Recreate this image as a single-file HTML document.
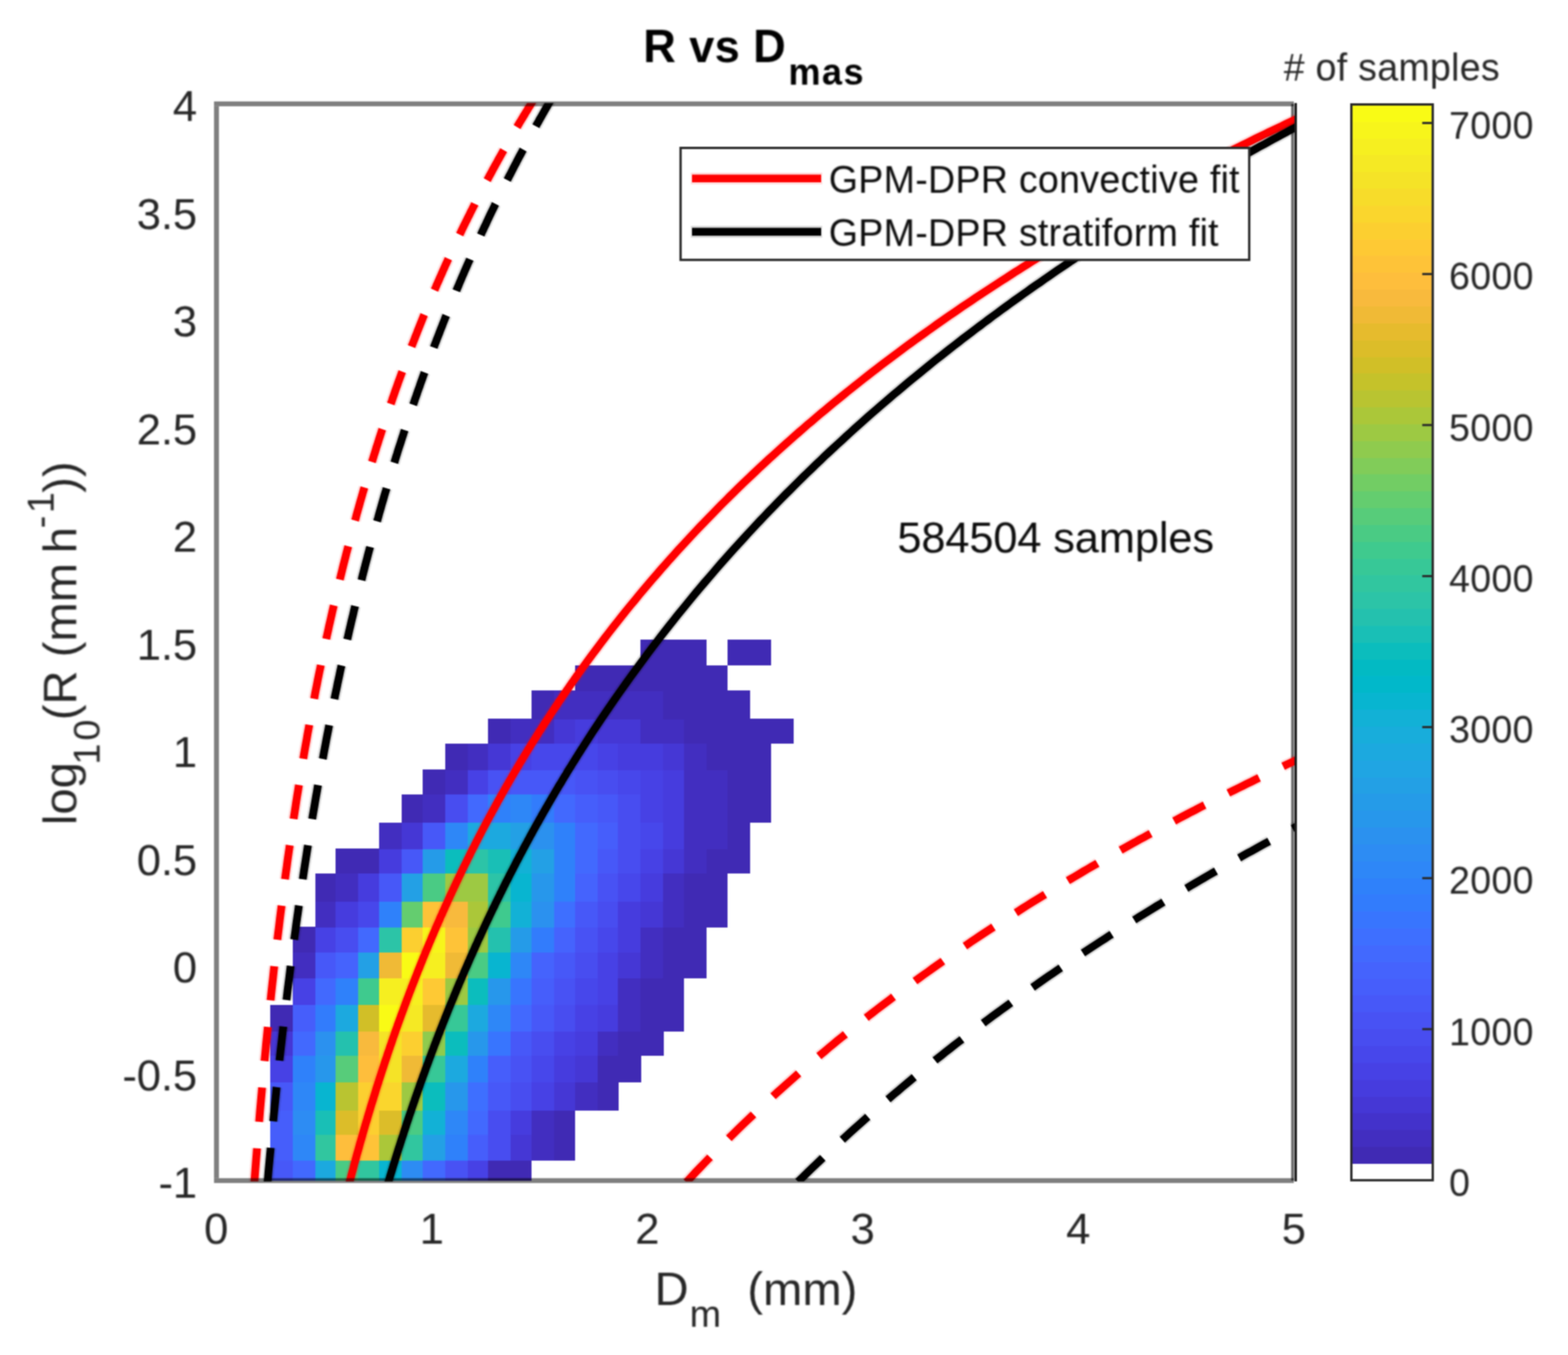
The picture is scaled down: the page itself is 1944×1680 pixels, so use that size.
<!DOCTYPE html>
<html><head><meta charset="utf-8"><title>R vs Dmas</title>
<style>
html,body{margin:0;padding:0;background:#fff;}
body{width:1944px;height:1680px;overflow:hidden;}
svg{display:block;font-family:"Liberation Sans",sans-serif;}
text{stroke-linejoin:round;}
.tick{font-size:51.33px;fill:#262626;stroke:#262626;stroke-width:0px;letter-spacing:-0.25px;}
.cb{font-size:46.67px;fill:#262626;stroke:#262626;stroke-width:0px;letter-spacing:0.3px;}
.leg{font-size:46.67px;fill:#0c0c0c;stroke:#0c0c0c;stroke-width:0px;letter-spacing:0.3px;}
.ann{font-size:51.33px;fill:#0c0c0c;stroke:#0c0c0c;stroke-width:0px;letter-spacing:-0.2px;}
.lab{font-size:56px;fill:#262626;stroke:#262626;stroke-width:0px;letter-spacing:0px;}
.ttl{font-size:56px;font-weight:bold;fill:#000;stroke:#000;stroke-width:0px;letter-spacing:0.5px;}
.sub{font-size:44.8px;}
</style></head><body>
<svg width="1944" height="1680" viewBox="0 0 1944 1680">
<defs>
<path id="c0" d="M787.4 1538.5 L792.7 1532.0 L798.1 1525.6 L803.4 1519.3 L808.7 1513.1 L814.1 1506.9 L819.4 1500.7 L824.8 1494.7 L830.1 1488.7 L835.5 1482.7 L840.8 1476.8 L846.2 1470.9 L851.5 1465.2 L856.8 1459.4 L862.2 1453.7 L867.5 1448.1 L872.9 1442.5 L878.2 1437.0 L883.6 1431.5 L888.9 1426.0 L894.2 1420.6 L899.6 1415.3 L904.9 1410.0 L910.3 1404.7 L915.6 1399.5 L921.0 1394.3 L926.3 1389.2 L931.7 1384.1 L937.0 1379.1 L942.3 1374.1 L947.7 1369.1 L953.0 1364.2 L958.4 1359.3 L963.7 1354.4 L969.1 1349.6 L974.4 1344.8 L979.8 1340.1 L985.1 1335.4 L990.4 1330.7 L995.8 1326.1 L1001.1 1321.4 L1006.5 1316.9 L1011.8 1312.3 L1017.2 1307.8 L1022.5 1303.4 L1027.8 1298.9 L1033.2 1294.5 L1038.5 1290.1 L1043.9 1285.8 L1049.2 1281.5 L1054.6 1277.2 L1059.9 1272.9 L1065.3 1268.7 L1070.6 1264.5 L1075.9 1260.3 L1081.3 1256.1 L1086.6 1252.0 L1092.0 1247.9 L1097.3 1243.9 L1102.7 1239.8 L1108.0 1235.8 L1113.4 1231.8 L1118.7 1227.8 L1124.0 1223.9 L1129.4 1220.0 L1134.7 1216.1 L1140.1 1212.2 L1145.4 1208.4 L1150.8 1204.6 L1156.1 1200.8 L1161.4 1197.0 L1166.8 1193.2 L1172.1 1189.5 L1177.5 1185.8 L1182.8 1182.1 L1188.2 1178.4 L1193.5 1174.8 L1198.9 1171.2 L1204.2 1167.6 L1209.5 1164.0 L1214.9 1160.4 L1220.2 1156.9 L1225.6 1153.4 L1230.9 1149.9 L1236.3 1146.4 L1241.6 1142.9 L1247.0 1139.5 L1252.3 1136.1 L1257.6 1132.7 L1263.0 1129.3 L1268.3 1125.9 L1273.7 1122.5 L1279.0 1119.2 L1284.4 1115.9 L1289.7 1112.6 L1295.0 1109.3 L1300.4 1106.0 L1305.7 1102.8 L1311.1 1099.6 L1316.4 1096.3 L1321.8 1093.2 L1327.1 1090.0 L1332.5 1086.8 L1337.8 1083.7 L1343.1 1080.5 L1348.5 1077.4 L1353.8 1074.3 L1359.2 1071.2 L1364.5 1068.1 L1369.9 1065.1 L1375.2 1062.0 L1380.6 1059.0 L1385.9 1056.0 L1391.2 1053.0 L1396.6 1050.0 L1401.9 1047.0 L1407.3 1044.1 L1412.6 1041.1 L1418.0 1038.2 L1423.3 1035.3 L1428.6 1032.4 L1434.0 1029.5 L1439.3 1026.6 L1444.7 1023.7 L1450.0 1020.9 L1455.4 1018.1 L1460.7 1015.2 L1466.1 1012.4 L1471.4 1009.6 L1476.7 1006.8 L1482.1 1004.1 L1487.4 1001.3 L1492.8 998.5 L1498.1 995.8 L1503.5 993.1 L1508.8 990.4 L1514.2 987.7 L1519.5 985.0 L1524.8 982.3 L1530.2 979.6 L1535.5 977.0 L1540.9 974.3 L1546.2 971.7 L1551.6 969.1 L1556.9 966.4 L1562.2 963.8 L1567.6 961.2 L1572.9 958.7 L1578.3 956.1 L1583.6 953.5 L1589.0 951.0 L1594.3 948.4 L1599.7 945.9 L1605.0 943.4 L1610.3 940.9 L1615.7 938.4 L1621.0 935.9 L1626.4 933.4 L1631.7 931.0 L1637.1 928.5"/>
<path id="c1" d="M310.7 1533.3 L311.8 1517.4 L312.8 1501.9 L313.9 1486.7 L315.0 1471.9 L316.0 1457.5 L317.1 1443.4 L318.2 1429.6 L319.2 1416.0 L320.3 1402.8 L321.4 1389.8 L322.4 1377.1 L323.5 1364.7 L324.6 1352.5 L325.6 1340.5 L326.7 1328.8 L327.8 1317.2 L328.9 1305.9 L329.9 1294.8 L331.0 1283.9 L332.1 1273.1 L333.1 1262.6 L334.2 1252.2 L335.3 1241.9 L336.3 1231.9 L337.4 1222.0 L338.5 1212.2 L339.5 1202.6 L340.6 1193.2 L341.7 1183.9 L342.7 1174.7 L343.8 1165.7 L344.9 1156.7 L346.0 1148.0 L347.0 1139.3 L348.1 1130.7 L349.2 1122.3 L350.2 1114.0 L351.3 1105.8 L352.4 1097.6 L353.4 1089.6 L354.5 1081.7 L355.6 1073.9 L356.6 1066.2 L357.7 1058.6 L358.8 1051.1 L359.8 1043.6 L360.9 1036.3 L362.0 1029.0 L363.1 1021.8 L364.1 1014.7 L365.2 1007.7 L366.3 1000.8 L367.3 993.9 L368.4 987.1 L369.5 980.4 L370.5 973.7 L371.6 967.1 L372.7 960.6 L373.7 954.2 L374.8 947.8 L375.9 941.5 L376.9 935.2 L378.0 929.0 L379.1 922.9 L380.2 916.8 L381.2 910.8 L382.3 904.9 L383.4 899.0 L384.4 893.1 L385.5 887.3 L386.6 881.6 L387.6 875.9 L388.7 870.3 L389.8 864.7 L390.8 859.1 L391.9 853.6 L393.0 848.2 L394.0 842.8 L395.1 837.5 L396.2 832.1 L397.3 826.9 L398.3 821.7 L399.4 816.5 L400.5 811.4 L401.5 806.3 L402.6 801.2 L403.7 796.2 L404.7 791.3 L405.8 786.3 L406.9 781.4 L407.9 776.6 L409.0 771.8 L410.1 767.0 L411.2 762.2 L412.2 757.5 L413.3 752.9 L414.4 748.2 L415.4 743.6 L416.5 739.0 L417.6 734.5 L418.6 730.0 L419.7 725.5 L420.8 721.1 L421.8 716.7 L422.9 712.3 L424.0 707.9 L425.0 703.6 L426.1 699.3 L427.2 695.1 L428.3 690.8 L429.3 686.6 L430.4 682.5 L431.5 678.3 L432.5 674.2 L433.6 670.1 L434.7 666.0 L435.7 662.0 L436.8 658.0 L437.9 654.0 L438.9 650.0 L440.0 646.1 L441.1 642.2 L442.1 638.3 L443.2 634.4 L444.3 630.5 L445.4 626.7 L446.4 622.9 L447.5 619.2 L448.6 615.4 L449.6 611.7 L450.7 608.0 L451.8 604.3 L452.8 600.6 L453.9 597.0 L455.0 593.3 L456.0 589.7 L457.1 586.2 L458.2 582.6 L459.2 579.1 L460.3 575.5 L461.4 572.0 L462.5 568.6 L463.5 565.1 L464.6 561.7 L465.7 558.2 L466.7 554.8 L467.8 551.4 L468.9 548.1 L469.9 544.7 L471.0 541.4 L472.1 538.1 L473.1 534.8 L474.2 531.5 L475.3 528.2 L476.3 525.0 L477.4 521.7 L478.5 518.5 L479.6 515.3 L480.6 512.1 L481.7 509.0 L482.8 505.8 L483.8 502.7 L484.9 499.6 L486.0 496.5 L487.0 493.4 L488.1 490.3 L489.2 487.2 L490.2 484.2 L491.3 481.2 L492.4 478.2 L493.4 475.2 L494.5 472.2 L495.6 469.2 L496.7 466.2 L497.7 463.3 L498.8 460.4 L499.9 457.4 L500.9 454.5 L502.0 451.7 L503.1 448.8 L504.1 445.9 L505.2 443.1 L506.3 440.2 L507.3 437.4 L508.4 434.6 L509.5 431.8 L510.5 429.0 L511.6 426.2 L512.7 423.5 L513.8 420.7 L514.8 418.0 L515.9 415.2 L517.0 412.5 L518.0 409.8 L519.1 407.1 L520.2 404.5 L521.2 401.8 L522.3 399.1 L523.4 396.5 L524.4 393.8 L525.5 391.2 L526.6 388.6 L527.6 386.0 L528.7 383.4 L529.8 380.8 L530.9 378.3 L531.9 375.7 L533.0 373.2 L534.1 370.6 L535.1 368.1 L536.2 365.6 L537.3 363.1 L538.3 360.6 L539.4 358.1 L540.5 355.6 L541.5 353.1 L542.6 350.7 L543.7 348.2 L544.8 345.8 L545.8 343.3 L546.9 340.9 L548.0 338.5 L549.0 336.1 L550.1 333.7 L551.2 331.3 L552.2 328.9 L553.3 326.6 L554.4 324.2 L555.4 321.9 L556.5 319.5 L557.6 317.2 L558.6 314.9 L559.7 312.6 L560.8 310.2 L561.9 307.9 L562.9 305.7 L564.0 303.4 L565.1 301.1 L566.1 298.8 L567.2 296.6 L568.3 294.3 L569.3 292.1 L570.4 289.9 L571.5 287.6 L572.5 285.4 L573.6 283.2 L574.7 281.0 L575.7 278.8 L576.8 276.6 L577.9 274.4 L579.0 272.3 L580.0 270.1 L581.1 268.0 L582.2 265.8 L583.2 263.7 L584.3 261.5 L585.4 259.4 L586.4 257.3 L587.5 255.2 L588.6 253.1 L589.6 251.0 L590.7 248.9 L591.8 246.8 L592.8 244.7 L593.9 242.6 L595.0 240.6 L596.1 238.5 L597.1 236.5 L598.2 234.4 L599.3 232.4 L600.3 230.4 L601.4 228.3 L602.5 226.3 L603.5 224.3 L604.6 222.3 L605.7 220.3 L606.7 218.3 L607.8 216.3 L608.9 214.3 L609.9 212.4 L611.0 210.4 L612.1 208.4 L613.2 206.5 L614.2 204.5 L615.3 202.6 L616.4 200.7 L617.4 198.7 L618.5 196.8 L619.6 194.9 L620.6 193.0 L621.7 191.1 L622.8 189.2 L623.8 187.3 L624.9 185.4 L626.0 183.5 L627.0 181.6 L628.1 179.7 L629.2 177.9 L630.3 176.0 L631.3 174.2 L632.4 172.3 L633.5 170.5 L634.5 168.6 L635.6 166.8 L636.7 164.9 L637.7 163.1 L638.8 161.3 L639.9 159.5 L640.9 157.7 L642.0 155.9 L643.1 154.1 L644.1 152.3 L645.2 150.5 L646.3 148.7 L647.4 146.9 L648.4 145.2 L649.5 143.4 L650.6 141.6 L651.6 139.9 L652.7 138.1 L653.8 136.4 L654.8 134.6 L655.9 132.9 L657.0 131.2 L658.0 129.4 L659.1 127.7 L660.2 126.0 L661.2 124.3 L662.3 122.6 L663.4 120.9 L664.5 119.2 L665.5 117.5 L666.6 115.8 L667.7 114.1 L668.7 112.4 L669.8 110.7 L670.9 109.0 L671.9 107.4 L673.0 105.7 L674.1 104.0 L675.1 102.4 L676.2 100.7 L677.3 99.1 L678.4 97.4 L679.4 95.8 L680.5 94.2 L681.6 92.5 L682.6 90.9 L683.7 89.3 L684.8 87.7 L685.8 86.1 L686.9 84.5 L688.0 82.8 L689.0 81.2 L690.1 79.7 L691.2 78.1 L692.2 76.5 L693.3 74.9 L694.4 73.3 L695.5 71.7 L696.5 70.2 L697.6 68.6 L698.7 67.0 L699.7 65.5 L700.8 63.9 L701.9 62.3 L702.9 60.8"/>
<path id="c2" d="M415.4 1538.3 L416.5 1533.8 L417.6 1529.2 L418.6 1524.7 L419.7 1520.2 L420.8 1515.8 L421.8 1511.4 L422.9 1507.0 L424.0 1502.7 L425.0 1498.3 L426.1 1494.0 L427.2 1489.8 L428.3 1485.5 L429.3 1481.3 L430.4 1477.2 L431.5 1473.0 L432.5 1468.9 L433.6 1464.8 L434.7 1460.7 L435.7 1456.7 L436.8 1452.7 L437.9 1448.7 L438.9 1444.7 L440.0 1440.8 L441.1 1436.9 L442.1 1433.0 L443.2 1429.1 L444.3 1425.3 L445.4 1421.4 L446.4 1417.6 L447.5 1413.9 L448.6 1410.1 L449.6 1406.4 L450.7 1402.7 L451.8 1399.0 L452.8 1395.3 L453.9 1391.7 L455.0 1388.1 L456.0 1384.5 L457.1 1380.9 L458.2 1377.3 L459.2 1373.8 L460.3 1370.2 L461.4 1366.7 L462.5 1363.3 L463.5 1359.8 L464.6 1356.4 L465.7 1352.9 L466.7 1349.5 L467.8 1346.1 L468.9 1342.8 L469.9 1339.4 L471.0 1336.1 L472.1 1332.8 L473.1 1329.5 L474.2 1326.2 L475.3 1322.9 L476.3 1319.7 L477.4 1316.4 L478.5 1313.2 L479.6 1310.0 L480.6 1306.8 L481.7 1303.7 L482.8 1300.5 L483.8 1297.4 L484.9 1294.3 L486.0 1291.2 L487.0 1288.1 L488.1 1285.0 L489.2 1281.9 L490.2 1278.9 L491.3 1275.9 L492.4 1272.9 L493.4 1269.9 L494.5 1266.9 L495.6 1263.9 L496.7 1260.9 L497.7 1258.0 L498.8 1255.1 L499.9 1252.2 L500.9 1249.3 L502.0 1246.4 L503.1 1243.5 L504.1 1240.6 L505.2 1237.8 L506.3 1234.9 L507.3 1232.1 L508.4 1229.3 L509.5 1226.5 L510.5 1223.7 L511.6 1220.9 L512.7 1218.2 L513.8 1215.4 L514.8 1212.7 L515.9 1210.0 L517.0 1207.2 L518.0 1204.5 L519.1 1201.8 L520.2 1199.2 L521.2 1196.5 L522.3 1193.8 L523.4 1191.2 L524.4 1188.6 L525.5 1185.9 L526.6 1183.3 L527.6 1180.7 L528.7 1178.1 L529.8 1175.5 L530.9 1173.0 L531.9 1170.4 L533.0 1167.9 L534.1 1165.3 L535.1 1162.8 L536.2 1160.3 L537.3 1157.8 L538.3 1155.3 L539.4 1152.8 L540.5 1150.3 L541.5 1147.8 L542.6 1145.4 L543.7 1142.9 L544.8 1140.5 L545.8 1138.0 L546.9 1135.6 L548.0 1133.2 L549.0 1130.8 L550.1 1128.4 L551.2 1126.0 L552.2 1123.6 L553.3 1121.3 L554.4 1118.9 L555.4 1116.6 L556.5 1114.2 L557.6 1111.9 L558.6 1109.6 L559.7 1107.3 L560.8 1105.0 L561.9 1102.7 L562.9 1100.4 L564.0 1098.1 L565.1 1095.8 L566.1 1093.5 L567.2 1091.3 L568.3 1089.0 L569.3 1086.8 L570.4 1084.6 L571.5 1082.3 L572.5 1080.1 L573.6 1077.9 L574.7 1075.7 L575.7 1073.5 L576.8 1071.3 L577.9 1069.2 L579.0 1067.0 L580.0 1064.8 L581.1 1062.7 L582.2 1060.5 L583.2 1058.4 L584.3 1056.2 L585.4 1054.1 L586.4 1052.0 L587.5 1049.9 L588.6 1047.8 L589.6 1045.7 L590.7 1043.6 L591.8 1041.5 L592.8 1039.4 L593.9 1037.4 L595.0 1035.3 L596.1 1033.2 L597.1 1031.2 L598.2 1029.1 L599.3 1027.1 L600.3 1025.1 L601.4 1023.0 L602.5 1021.0 L603.5 1019.0 L604.6 1017.0 L605.7 1015.0 L606.7 1013.0 L607.8 1011.0 L608.9 1009.1 L609.9 1007.1 L611.0 1005.1 L612.1 1003.2 L613.2 1001.2 L614.2 999.2 L615.3 997.3 L616.4 995.4 L617.4 993.4 L618.5 991.5 L619.6 989.6 L620.6 987.7 L621.7 985.8 L622.8 983.9 L623.8 982.0 L624.9 980.1 L626.0 978.2 L627.0 976.3 L628.1 974.4 L629.2 972.6 L630.3 970.7 L631.3 968.9 L632.4 967.0 L633.5 965.2 L634.5 963.3 L635.6 961.5 L636.7 959.7 L637.7 957.8 L638.8 956.0 L639.9 954.2 L640.9 952.4 L642.0 950.6 L643.1 948.8 L644.1 947.0 L645.2 945.2 L646.3 943.4 L647.4 941.6 L648.4 939.9 L649.5 938.1 L650.6 936.3 L651.6 934.6 L652.7 932.8 L653.8 931.1 L654.8 929.3 L655.9 927.6 L657.0 925.9 L658.0 924.1 L659.1 922.4 L660.2 920.7 L661.2 919.0 L662.3 917.3 L663.4 915.6 L664.5 913.9 L665.5 912.2 L666.6 910.5 L667.7 908.8 L668.7 907.1 L669.8 905.4 L670.9 903.8 L671.9 902.1 L673.0 900.4 L674.1 898.8 L675.1 897.1 L676.2 895.4 L677.3 893.8 L678.4 892.2 L679.4 890.5 L680.5 888.9 L681.6 887.3 L682.6 885.6 L683.7 884.0 L684.8 882.4 L685.8 880.8 L686.9 879.2 L688.0 877.6 L689.0 876.0 L690.1 874.4 L691.2 872.8 L692.2 871.2 L693.3 869.6 L694.4 868.0 L695.5 866.4 L696.5 864.9 L697.6 863.3 L698.7 861.7 L699.7 860.2 L700.8 858.6 L701.9 857.1 L702.9 855.5 L704.0 854.0 L705.1 852.4 L706.1 850.9 L707.2 849.3 L708.3 847.8 L709.3 846.3 L710.4 844.8 L711.5 843.2 L712.6 841.7 L713.6 840.2 L714.7 838.7 L715.8 837.2 L716.8 835.7 L717.9 834.2 L719.0 832.7 L720.0 831.2 L721.1 829.7 L722.2 828.2 L723.2 826.8 L728.6 819.4 L733.9 812.1 L739.3 805.0 L744.6 797.9 L750.0 790.8 L755.3 783.9 L760.6 777.0 L766.0 770.2 L771.3 763.5 L776.7 756.8 L782.0 750.3 L787.4 743.8 L792.7 737.3 L798.1 730.9 L803.4 724.6 L808.7 718.4 L814.1 712.2 L819.4 706.0 L824.8 700.0 L830.1 693.9 L835.5 688.0 L840.8 682.1 L846.2 676.2 L851.5 670.4 L856.8 664.7 L862.2 659.0 L867.5 653.4 L872.9 647.8 L878.2 642.3 L883.6 636.8 L888.9 631.3 L894.2 625.9 L899.6 620.6 L904.9 615.3 L910.3 610.0 L915.6 604.8 L921.0 599.6 L926.3 594.5 L931.7 589.4 L937.0 584.4 L942.3 579.3 L947.7 574.4 L953.0 569.4 L958.4 564.6 L963.7 559.7 L969.1 554.9 L974.4 550.1 L979.8 545.4 L985.1 540.7 L990.4 536.0 L995.8 531.3 L1001.1 526.7 L1006.5 522.2 L1011.8 517.6 L1017.2 513.1 L1022.5 508.7 L1027.8 504.2 L1033.2 499.8 L1038.5 495.4 L1043.9 491.1 L1049.2 486.7 L1054.6 482.5 L1059.9 478.2 L1065.3 474.0 L1070.6 469.8 L1075.9 465.6 L1081.3 461.4 L1086.6 457.3 L1092.0 453.2 L1097.3 449.2 L1102.7 445.1 L1108.0 441.1 L1113.4 437.1 L1118.7 433.1 L1124.0 429.2 L1129.4 425.3 L1134.7 421.4 L1140.1 417.5 L1145.4 413.7 L1150.8 409.9 L1156.1 406.1 L1161.4 402.3 L1166.8 398.5 L1172.1 394.8 L1177.5 391.1 L1182.8 387.4 L1188.2 383.7 L1193.5 380.1 L1198.9 376.5 L1204.2 372.9 L1209.5 369.3 L1214.9 365.7 L1220.2 362.2 L1225.6 358.7 L1230.9 355.2 L1236.3 351.7 L1241.6 348.2 L1247.0 344.8 L1252.3 341.4 L1257.6 337.9 L1263.0 334.6 L1268.3 331.2 L1273.7 327.8 L1279.0 324.5 L1284.4 321.2 L1289.7 317.9 L1295.0 314.6 L1300.4 311.3 L1305.7 308.1 L1311.1 304.9 L1316.4 301.6 L1321.8 298.4 L1327.1 295.3 L1332.5 292.1 L1337.8 288.9 L1343.1 285.8 L1348.5 282.7 L1353.8 279.6 L1359.2 276.5 L1364.5 273.4 L1369.9 270.4 L1375.2 267.3 L1380.6 264.3 L1385.9 261.3 L1391.2 258.3 L1396.6 255.3 L1401.9 252.3 L1407.3 249.4 L1412.6 246.4 L1418.0 243.5 L1423.3 240.6 L1428.6 237.7 L1434.0 234.8 L1439.3 231.9 L1444.7 229.0 L1450.0 226.2 L1455.4 223.3 L1460.7 220.5 L1466.1 217.7 L1471.4 214.9 L1476.7 212.1 L1482.1 209.3 L1487.4 206.6 L1492.8 203.8 L1498.1 201.1 L1503.5 198.4 L1508.8 195.7 L1514.2 193.0 L1519.5 190.3 L1524.8 187.6 L1530.2 184.9 L1535.5 182.3 L1540.9 179.6 L1546.2 177.0 L1551.6 174.3 L1556.9 171.7 L1562.2 169.1 L1567.6 166.5 L1572.9 164.0 L1578.3 161.4 L1583.6 158.8 L1589.0 156.3 L1594.3 153.7 L1599.7 151.2 L1605.0 148.7 L1610.3 146.2 L1615.7 143.7 L1621.0 141.2 L1626.4 138.7 L1631.7 136.2 L1637.1 133.8"/>
<path id="c3" d="M921.0 1536.2 L926.3 1530.4 L931.7 1524.7 L937.0 1519.0 L942.3 1513.3 L947.7 1507.7 L953.0 1502.1 L958.4 1496.6 L963.7 1491.1 L969.1 1485.6 L974.4 1480.2 L979.8 1474.9 L985.1 1469.5 L990.4 1464.2 L995.8 1459.0 L1001.1 1453.8 L1006.5 1448.6 L1011.8 1443.5 L1017.2 1438.4 L1022.5 1433.3 L1027.8 1428.3 L1033.2 1423.3 L1038.5 1418.4 L1043.9 1413.4 L1049.2 1408.6 L1054.6 1403.7 L1059.9 1398.9 L1065.3 1394.1 L1070.6 1389.3 L1075.9 1384.6 L1081.3 1379.9 L1086.6 1375.3 L1092.0 1370.6 L1097.3 1366.0 L1102.7 1361.5 L1108.0 1356.9 L1113.4 1352.4 L1118.7 1347.9 L1124.0 1343.5 L1129.4 1339.0 L1134.7 1334.6 L1140.1 1330.2 L1145.4 1325.9 L1150.8 1321.6 L1156.1 1317.3 L1161.4 1313.0 L1166.8 1308.8 L1172.1 1304.5 L1177.5 1300.3 L1182.8 1296.2 L1188.2 1292.0 L1193.5 1287.9 L1198.9 1283.8 L1204.2 1279.7 L1209.5 1275.7 L1214.9 1271.7 L1220.2 1267.7 L1225.6 1263.7 L1230.9 1259.7 L1236.3 1255.8 L1241.6 1251.9 L1247.0 1248.0 L1252.3 1244.1 L1257.6 1240.2 L1263.0 1236.4 L1268.3 1232.6 L1273.7 1228.8 L1279.0 1225.0 L1284.4 1221.3 L1289.7 1217.5 L1295.0 1213.8 L1300.4 1210.1 L1305.7 1206.5 L1311.1 1202.8 L1316.4 1199.2 L1321.8 1195.5 L1327.1 1191.9 L1332.5 1188.4 L1337.8 1184.8 L1343.1 1181.3 L1348.5 1177.7 L1353.8 1174.2 L1359.2 1170.7 L1364.5 1167.2 L1369.9 1163.8 L1375.2 1160.3 L1380.6 1156.9 L1385.9 1153.5 L1391.2 1150.1 L1396.6 1146.7 L1401.9 1143.4 L1407.3 1140.0 L1412.6 1136.7 L1418.0 1133.4 L1423.3 1130.1 L1428.6 1126.8 L1434.0 1123.5 L1439.3 1120.3 L1444.7 1117.0 L1450.0 1113.8 L1455.4 1110.6 L1460.7 1107.4 L1466.1 1104.2 L1471.4 1101.1 L1476.7 1097.9 L1482.1 1094.8 L1487.4 1091.6 L1492.8 1088.5 L1498.1 1085.4 L1503.5 1082.3 L1508.8 1079.3 L1514.2 1076.2 L1519.5 1073.2 L1524.8 1070.1 L1530.2 1067.1 L1535.5 1064.1 L1540.9 1061.1 L1546.2 1058.1 L1551.6 1055.2 L1556.9 1052.2 L1562.2 1049.3 L1567.6 1046.3 L1572.9 1043.4 L1578.3 1040.5 L1583.6 1037.6 L1589.0 1034.7 L1594.3 1031.9 L1599.7 1029.0 L1605.0 1026.1 L1610.3 1023.3 L1615.7 1020.5 L1621.0 1017.7 L1626.4 1014.9 L1631.7 1012.1 L1637.1 1009.3"/>
<path id="c4" d="M325.6 1537.9 L326.7 1524.6 L327.8 1511.6 L328.9 1498.8 L329.9 1486.2 L331.0 1473.8 L332.1 1461.7 L333.1 1449.7 L334.2 1438.0 L335.3 1426.4 L336.3 1415.0 L337.4 1403.8 L338.5 1392.8 L339.5 1382.0 L340.6 1371.3 L341.7 1360.7 L342.7 1350.4 L343.8 1340.1 L344.9 1330.0 L346.0 1320.1 L347.0 1310.3 L348.1 1300.6 L349.2 1291.1 L350.2 1281.7 L351.3 1272.4 L352.4 1263.2 L353.4 1254.1 L354.5 1245.2 L355.6 1236.4 L356.6 1227.6 L357.7 1219.0 L358.8 1210.5 L359.8 1202.1 L360.9 1193.8 L362.0 1185.5 L363.1 1177.4 L364.1 1169.4 L365.2 1161.4 L366.3 1153.6 L367.3 1145.8 L368.4 1138.1 L369.5 1130.5 L370.5 1123.0 L371.6 1115.6 L372.7 1108.2 L373.7 1100.9 L374.8 1093.7 L375.9 1086.5 L376.9 1079.5 L378.0 1072.5 L379.1 1065.5 L380.2 1058.6 L381.2 1051.8 L382.3 1045.1 L383.4 1038.4 L384.4 1031.8 L385.5 1025.3 L386.6 1018.8 L387.6 1012.3 L388.7 1006.0 L389.8 999.6 L390.8 993.4 L391.9 987.2 L393.0 981.0 L394.0 974.9 L395.1 968.9 L396.2 962.9 L397.3 956.9 L398.3 951.0 L399.4 945.2 L400.5 939.3 L401.5 933.6 L402.6 927.9 L403.7 922.2 L404.7 916.6 L405.8 911.0 L406.9 905.5 L407.9 900.0 L409.0 894.5 L410.1 889.1 L411.2 883.8 L412.2 878.4 L413.3 873.2 L414.4 867.9 L415.4 862.7 L416.5 857.5 L417.6 852.4 L418.6 847.3 L419.7 842.2 L420.8 837.2 L421.8 832.2 L422.9 827.3 L424.0 822.4 L425.0 817.5 L426.1 812.6 L427.2 807.8 L428.3 803.0 L429.3 798.3 L430.4 793.5 L431.5 788.8 L432.5 784.2 L433.6 779.5 L434.7 774.9 L435.7 770.4 L436.8 765.8 L437.9 761.3 L438.9 756.8 L440.0 752.4 L441.1 747.9 L442.1 743.5 L443.2 739.2 L444.3 734.8 L445.4 730.5 L446.4 726.2 L447.5 721.9 L448.6 717.7 L449.6 713.5 L450.7 709.3 L451.8 705.1 L452.8 700.9 L453.9 696.8 L455.0 692.7 L456.0 688.7 L457.1 684.6 L458.2 680.6 L459.2 676.6 L460.3 672.6 L461.4 668.6 L462.5 664.7 L463.5 660.8 L464.6 656.9 L465.7 653.0 L466.7 649.1 L467.8 645.3 L468.9 641.5 L469.9 637.7 L471.0 633.9 L472.1 630.2 L473.1 626.5 L474.2 622.7 L475.3 619.0 L476.3 615.4 L477.4 611.7 L478.5 608.1 L479.6 604.5 L480.6 600.9 L481.7 597.3 L482.8 593.7 L483.8 590.2 L484.9 586.6 L486.0 583.1 L487.0 579.6 L488.1 576.2 L489.2 572.7 L490.2 569.3 L491.3 565.8 L492.4 562.4 L493.4 559.0 L494.5 555.6 L495.6 552.3 L496.7 548.9 L497.7 545.6 L498.8 542.3 L499.9 539.0 L500.9 535.7 L502.0 532.4 L503.1 529.2 L504.1 526.0 L505.2 522.7 L506.3 519.5 L507.3 516.3 L508.4 513.1 L509.5 510.0 L510.5 506.8 L511.6 503.7 L512.7 500.6 L513.8 497.4 L514.8 494.3 L515.9 491.3 L517.0 488.2 L518.0 485.1 L519.1 482.1 L520.2 479.1 L521.2 476.0 L522.3 473.0 L523.4 470.0 L524.4 467.1 L525.5 464.1 L526.6 461.1 L527.6 458.2 L528.7 455.3 L529.8 452.3 L530.9 449.4 L531.9 446.5 L533.0 443.6 L534.1 440.8 L535.1 437.9 L536.2 435.1 L537.3 432.2 L538.3 429.4 L539.4 426.6 L540.5 423.8 L541.5 421.0 L542.6 418.2 L543.7 415.4 L544.8 412.7 L545.8 409.9 L546.9 407.2 L548.0 404.4 L549.0 401.7 L550.1 399.0 L551.2 396.3 L552.2 393.6 L553.3 391.0 L554.4 388.3 L555.4 385.6 L556.5 383.0 L557.6 380.3 L558.6 377.7 L559.7 375.1 L560.8 372.5 L561.9 369.9 L562.9 367.3 L564.0 364.7 L565.1 362.1 L566.1 359.6 L567.2 357.0 L568.3 354.5 L569.3 352.0 L570.4 349.4 L571.5 346.9 L572.5 344.4 L573.6 341.9 L574.7 339.4 L575.7 336.9 L576.8 334.5 L577.9 332.0 L579.0 329.5 L580.0 327.1 L581.1 324.7 L582.2 322.2 L583.2 319.8 L584.3 317.4 L585.4 315.0 L586.4 312.6 L587.5 310.2 L588.6 307.8 L589.6 305.4 L590.7 303.1 L591.8 300.7 L592.8 298.4 L593.9 296.0 L595.0 293.7 L596.1 291.4 L597.1 289.0 L598.2 286.7 L599.3 284.4 L600.3 282.1 L601.4 279.8 L602.5 277.6 L603.5 275.3 L604.6 273.0 L605.7 270.7 L606.7 268.5 L607.8 266.2 L608.9 264.0 L609.9 261.8 L611.0 259.6 L612.1 257.3 L613.2 255.1 L614.2 252.9 L615.3 250.7 L616.4 248.5 L617.4 246.3 L618.5 244.2 L619.6 242.0 L620.6 239.8 L621.7 237.7 L622.8 235.5 L623.8 233.4 L624.9 231.2 L626.0 229.1 L627.0 227.0 L628.1 224.9 L629.2 222.7 L630.3 220.6 L631.3 218.5 L632.4 216.4 L633.5 214.4 L634.5 212.3 L635.6 210.2 L636.7 208.1 L637.7 206.1 L638.8 204.0 L639.9 202.0 L640.9 199.9 L642.0 197.9 L643.1 195.8 L644.1 193.8 L645.2 191.8 L646.3 189.8 L647.4 187.8 L648.4 185.8 L649.5 183.8 L650.6 181.8 L651.6 179.8 L652.7 177.8 L653.8 175.8 L654.8 173.8 L655.9 171.9 L657.0 169.9 L658.0 168.0 L659.1 166.0 L660.2 164.1 L661.2 162.1 L662.3 160.2 L663.4 158.3 L664.5 156.3 L665.5 154.4 L666.6 152.5 L667.7 150.6 L668.7 148.7 L669.8 146.8 L670.9 144.9 L671.9 143.0 L673.0 141.1 L674.1 139.2 L675.1 137.4 L676.2 135.5 L677.3 133.6 L678.4 131.8 L679.4 129.9 L680.5 128.1 L681.6 126.2 L682.6 124.4 L683.7 122.6 L684.8 120.7 L685.8 118.9 L686.9 117.1 L688.0 115.3 L689.0 113.5 L690.1 111.6 L691.2 109.8 L692.2 108.0 L693.3 106.3 L694.4 104.5 L695.5 102.7 L696.5 100.9 L697.6 99.1 L698.7 97.4 L699.7 95.6 L700.8 93.8 L701.9 92.1 L702.9 90.3 L704.0 88.6 L705.1 86.8 L706.1 85.1 L707.2 83.3 L708.3 81.6 L709.3 79.9 L710.4 78.2 L711.5 76.4 L712.6 74.7 L713.6 73.0 L714.7 71.3 L715.8 69.6 L716.8 67.9 L717.9 66.2 L719.0 64.5 L720.0 62.8 L721.1 61.1"/>
<path id="c5" d="M461.4 1536.3 L462.5 1532.4 L463.5 1528.5 L464.6 1524.6 L465.7 1520.7 L466.7 1516.8 L467.8 1513.0 L468.9 1509.2 L469.9 1505.4 L471.0 1501.6 L472.1 1497.9 L473.1 1494.1 L474.2 1490.4 L475.3 1486.7 L476.3 1483.1 L477.4 1479.4 L478.5 1475.8 L479.6 1472.1 L480.6 1468.5 L481.7 1465.0 L482.8 1461.4 L483.8 1457.9 L484.9 1454.3 L486.0 1450.8 L487.0 1447.3 L488.1 1443.8 L489.2 1440.4 L490.2 1436.9 L491.3 1433.5 L492.4 1430.1 L493.4 1426.7 L494.5 1423.3 L495.6 1420.0 L496.7 1416.6 L497.7 1413.3 L498.8 1410.0 L499.9 1406.7 L500.9 1403.4 L502.0 1400.1 L503.1 1396.9 L504.1 1393.6 L505.2 1390.4 L506.3 1387.2 L507.3 1384.0 L508.4 1380.8 L509.5 1377.7 L510.5 1374.5 L511.6 1371.4 L512.7 1368.2 L513.8 1365.1 L514.8 1362.0 L515.9 1358.9 L517.0 1355.9 L518.0 1352.8 L519.1 1349.8 L520.2 1346.7 L521.2 1343.7 L522.3 1340.7 L523.4 1337.7 L524.4 1334.7 L525.5 1331.8 L526.6 1328.8 L527.6 1325.9 L528.7 1322.9 L529.8 1320.0 L530.9 1317.1 L531.9 1314.2 L533.0 1311.3 L534.1 1308.5 L535.1 1305.6 L536.2 1302.7 L537.3 1299.9 L538.3 1297.1 L539.4 1294.3 L540.5 1291.5 L541.5 1288.7 L542.6 1285.9 L543.7 1283.1 L544.8 1280.4 L545.8 1277.6 L546.9 1274.9 L548.0 1272.1 L549.0 1269.4 L550.1 1266.7 L551.2 1264.0 L552.2 1261.3 L553.3 1258.6 L554.4 1256.0 L555.4 1253.3 L556.5 1250.7 L557.6 1248.0 L558.6 1245.4 L559.7 1242.8 L560.8 1240.2 L561.9 1237.6 L562.9 1235.0 L564.0 1232.4 L565.1 1229.8 L566.1 1227.3 L567.2 1224.7 L568.3 1222.2 L569.3 1219.6 L570.4 1217.1 L571.5 1214.6 L572.5 1212.1 L573.6 1209.6 L574.7 1207.1 L575.7 1204.6 L576.8 1202.1 L577.9 1199.7 L579.0 1197.2 L580.0 1194.8 L581.1 1192.3 L582.2 1189.9 L583.2 1187.5 L584.3 1185.1 L585.4 1182.7 L586.4 1180.3 L587.5 1177.9 L588.6 1175.5 L589.6 1173.1 L590.7 1170.8 L591.8 1168.4 L592.8 1166.0 L593.9 1163.7 L595.0 1161.4 L596.1 1159.0 L597.1 1156.7 L598.2 1154.4 L599.3 1152.1 L600.3 1149.8 L601.4 1147.5 L602.5 1145.2 L603.5 1143.0 L604.6 1140.7 L605.7 1138.4 L606.7 1136.2 L607.8 1133.9 L608.9 1131.7 L609.9 1129.5 L611.0 1127.2 L612.1 1125.0 L613.2 1122.8 L614.2 1120.6 L615.3 1118.4 L616.4 1116.2 L617.4 1114.0 L618.5 1111.8 L619.6 1109.7 L620.6 1107.5 L621.7 1105.4 L622.8 1103.2 L623.8 1101.1 L624.9 1098.9 L626.0 1096.8 L627.0 1094.7 L628.1 1092.5 L629.2 1090.4 L630.3 1088.3 L631.3 1086.2 L632.4 1084.1 L633.5 1082.0 L634.5 1080.0 L635.6 1077.9 L636.7 1075.8 L637.7 1073.8 L638.8 1071.7 L639.9 1069.6 L640.9 1067.6 L642.0 1065.6 L643.1 1063.5 L644.1 1061.5 L645.2 1059.5 L646.3 1057.5 L647.4 1055.4 L648.4 1053.4 L649.5 1051.4 L650.6 1049.4 L651.6 1047.5 L652.7 1045.5 L653.8 1043.5 L654.8 1041.5 L655.9 1039.6 L657.0 1037.6 L658.0 1035.6 L659.1 1033.7 L660.2 1031.7 L661.2 1029.8 L662.3 1027.9 L663.4 1025.9 L664.5 1024.0 L665.5 1022.1 L666.6 1020.2 L667.7 1018.3 L668.7 1016.4 L669.8 1014.5 L670.9 1012.6 L671.9 1010.7 L673.0 1008.8 L674.1 1006.9 L675.1 1005.1 L676.2 1003.2 L677.3 1001.3 L678.4 999.5 L679.4 997.6 L680.5 995.8 L681.6 993.9 L682.6 992.1 L683.7 990.2 L684.8 988.4 L685.8 986.6 L686.9 984.8 L688.0 982.9 L689.0 981.1 L690.1 979.3 L691.2 977.5 L692.2 975.7 L693.3 973.9 L694.4 972.1 L695.5 970.4 L696.5 968.6 L697.6 966.8 L698.7 965.0 L699.7 963.3 L700.8 961.5 L701.9 959.8 L702.9 958.0 L704.0 956.2 L705.1 954.5 L706.1 952.8 L707.2 951.0 L708.3 949.3 L709.3 947.6 L710.4 945.8 L711.5 944.1 L712.6 942.4 L713.6 940.7 L714.7 939.0 L715.8 937.3 L716.8 935.6 L717.9 933.9 L719.0 932.2 L720.0 930.5 L721.1 928.8 L722.2 927.2 L723.2 925.5 L728.6 917.2 L733.9 908.9 L739.3 900.8 L744.6 892.8 L750.0 884.8 L755.3 877.0 L760.6 869.2 L766.0 861.5 L771.3 853.9 L776.7 846.4 L782.0 839.0 L787.4 831.6 L792.7 824.3 L798.1 817.1 L803.4 809.9 L808.7 802.9 L814.1 795.9 L819.4 788.9 L824.8 782.0 L830.1 775.2 L835.5 768.5 L840.8 761.8 L846.2 755.2 L851.5 748.7 L856.8 742.2 L862.2 735.7 L867.5 729.4 L872.9 723.0 L878.2 716.8 L883.6 710.6 L888.9 704.4 L894.2 698.3 L899.6 692.3 L904.9 686.3 L910.3 680.3 L915.6 674.4 L921.0 668.6 L926.3 662.7 L931.7 657.0 L937.0 651.3 L942.3 645.6 L947.7 640.0 L953.0 634.4 L958.4 628.9 L963.7 623.4 L969.1 617.9 L974.4 612.5 L979.8 607.2 L985.1 601.8 L990.4 596.6 L995.8 591.3 L1001.1 586.1 L1006.5 580.9 L1011.8 575.8 L1017.2 570.7 L1022.5 565.6 L1027.8 560.6 L1033.2 555.6 L1038.5 550.7 L1043.9 545.8 L1049.2 540.9 L1054.6 536.0 L1059.9 531.2 L1065.3 526.4 L1070.6 521.7 L1075.9 516.9 L1081.3 512.2 L1086.6 507.6 L1092.0 502.9 L1097.3 498.3 L1102.7 493.8 L1108.0 489.2 L1113.4 484.7 L1118.7 480.2 L1124.0 475.8 L1129.4 471.3 L1134.7 466.9 L1140.1 462.6 L1145.4 458.2 L1150.8 453.9 L1156.1 449.6 L1161.4 445.3 L1166.8 441.1 L1172.1 436.9 L1177.5 432.7 L1182.8 428.5 L1188.2 424.3 L1193.5 420.2 L1198.9 416.1 L1204.2 412.1 L1209.5 408.0 L1214.9 404.0 L1220.2 400.0 L1225.6 396.0 L1230.9 392.0 L1236.3 388.1 L1241.6 384.2 L1247.0 380.3 L1252.3 376.4 L1257.6 372.5 L1263.0 368.7 L1268.3 364.9 L1273.7 361.1 L1279.0 357.3 L1284.4 353.6 L1289.7 349.9 L1295.0 346.1 L1300.4 342.4 L1305.7 338.8 L1311.1 335.1 L1316.4 331.5 L1321.8 327.9 L1327.1 324.3 L1332.5 320.7 L1337.8 317.1 L1343.1 313.6 L1348.5 310.0 L1353.8 306.5 L1359.2 303.0 L1364.5 299.6 L1369.9 296.1 L1375.2 292.7 L1380.6 289.2 L1385.9 285.8 L1391.2 282.4 L1396.6 279.0 L1401.9 275.7 L1407.3 272.3 L1412.6 269.0 L1418.0 265.7 L1423.3 262.4 L1428.6 259.1 L1434.0 255.8 L1439.3 252.6 L1444.7 249.4 L1450.0 246.1 L1455.4 242.9 L1460.7 239.7 L1466.1 236.5 L1471.4 233.4 L1476.7 230.2 L1482.1 227.1 L1487.4 224.0 L1492.8 220.8 L1498.1 217.7 L1503.5 214.7 L1508.8 211.6 L1514.2 208.5 L1519.5 205.5 L1524.8 202.5 L1530.2 199.4 L1535.5 196.4 L1540.9 193.4 L1546.2 190.5 L1551.6 187.5 L1556.9 184.5 L1562.2 181.6 L1567.6 178.7 L1572.9 175.7 L1578.3 172.8 L1583.6 169.9 L1589.0 167.0 L1594.3 164.2 L1599.7 161.3 L1605.0 158.5 L1610.3 155.6 L1615.7 152.8 L1621.0 150.0 L1626.4 147.2 L1631.7 144.4 L1637.1 141.6"/>
<clipPath id="ax"><rect x="268.4" y="127.7" width="1336.6" height="1337.1"/></clipPath>
<filter id="soft" x="0" y="0" width="1944" height="1680" filterUnits="userSpaceOnUse" color-interpolation-filters="sRGB"><feConvolveMatrix order="3" kernelMatrix="1 2 1 2 4 2 1 2 1" edgeMode="duplicate" preserveAlpha="true"/></filter>
<filter id="tsoft" x="0" y="0" width="1944" height="1680" filterUnits="userSpaceOnUse" color-interpolation-filters="sRGB"><feConvolveMatrix order="5" kernelMatrix="1 4 6 4 1 4 16 24 16 4 6 24 36 24 6 4 16 24 16 4 1 4 6 4 1" edgeMode="none" preserveAlpha="false"/></filter>
</defs>
<rect x="0" y="0" width="1944" height="1680" fill="#ffffff"/>
<g id="plot" filter="url(#soft)">
<rect x="0" y="0" width="1944" height="1680" fill="#ffffff"/>
<g id="heat" shape-rendering="crispEdges">
<rect x="334.7" y="1438.5" width="28.3" height="25.6" fill="#4758f8"/>
<rect x="362.7" y="1438.5" width="28.3" height="25.6" fill="#4269fe"/>
<rect x="390.7" y="1438.5" width="26.0" height="25.6" fill="#1ca9df"/>
<rect x="416.4" y="1438.5" width="28.3" height="25.6" fill="#4acb84"/>
<rect x="444.4" y="1438.5" width="26.0" height="25.6" fill="#31c69f"/>
<rect x="470.0" y="1438.5" width="28.3" height="25.6" fill="#08b5d0"/>
<rect x="498.0" y="1438.5" width="26.0" height="25.6" fill="#2d8cf3"/>
<rect x="523.7" y="1438.5" width="28.3" height="25.6" fill="#4269fe"/>
<rect x="551.7" y="1438.5" width="28.3" height="25.6" fill="#4852f4"/>
<rect x="579.7" y="1438.5" width="26.0" height="25.6" fill="#4741e5"/>
<rect x="605.4" y="1438.5" width="28.3" height="25.6" fill="#402ab4"/>
<rect x="633.4" y="1438.5" width="26.0" height="25.6" fill="#402ab4"/>
<rect x="334.7" y="1407.0" width="28.3" height="31.8" fill="#465efb"/>
<rect x="362.7" y="1407.0" width="28.3" height="31.8" fill="#2e87f7"/>
<rect x="390.7" y="1407.0" width="26.0" height="31.8" fill="#31c69f"/>
<rect x="416.4" y="1407.0" width="28.3" height="31.8" fill="#febe3c"/>
<rect x="444.4" y="1407.0" width="26.0" height="31.8" fill="#fec338"/>
<rect x="470.0" y="1407.0" width="28.3" height="31.8" fill="#abc739"/>
<rect x="498.0" y="1407.0" width="26.0" height="31.8" fill="#31c69f"/>
<rect x="523.7" y="1407.0" width="28.3" height="31.8" fill="#23a0e5"/>
<rect x="551.7" y="1407.0" width="28.3" height="31.8" fill="#2f81fa"/>
<rect x="579.7" y="1407.0" width="26.0" height="31.8" fill="#465efb"/>
<rect x="605.4" y="1407.0" width="28.3" height="31.8" fill="#484df0"/>
<rect x="633.4" y="1407.0" width="26.0" height="31.8" fill="#4537d5"/>
<rect x="659.0" y="1407.0" width="28.3" height="31.8" fill="#422ec0"/>
<rect x="687.1" y="1407.0" width="26.0" height="31.8" fill="#402ab4"/>
<rect x="334.7" y="1376.7" width="28.3" height="30.6" fill="#465efb"/>
<rect x="362.7" y="1376.7" width="28.3" height="30.6" fill="#2d8cf3"/>
<rect x="390.7" y="1376.7" width="26.0" height="30.6" fill="#19bfb6"/>
<rect x="416.4" y="1376.7" width="28.3" height="30.6" fill="#dcbd29"/>
<rect x="444.4" y="1376.7" width="26.0" height="30.6" fill="#fccf30"/>
<rect x="470.0" y="1376.7" width="28.3" height="30.6" fill="#dcbd29"/>
<rect x="498.0" y="1376.7" width="26.0" height="30.6" fill="#4acb84"/>
<rect x="523.7" y="1376.7" width="28.3" height="30.6" fill="#12b1d6"/>
<rect x="551.7" y="1376.7" width="28.3" height="30.6" fill="#2e87f7"/>
<rect x="579.7" y="1376.7" width="26.0" height="30.6" fill="#4269fe"/>
<rect x="605.4" y="1376.7" width="28.3" height="30.6" fill="#484df0"/>
<rect x="633.4" y="1376.7" width="26.0" height="30.6" fill="#463cde"/>
<rect x="659.0" y="1376.7" width="28.3" height="30.6" fill="#422ec0"/>
<rect x="687.1" y="1376.7" width="26.0" height="30.6" fill="#402ab4"/>
<rect x="334.7" y="1341.7" width="28.3" height="35.3" fill="#4758f8"/>
<rect x="362.7" y="1341.7" width="28.3" height="35.3" fill="#2e87f7"/>
<rect x="390.7" y="1341.7" width="26.0" height="35.3" fill="#08b5d0"/>
<rect x="416.4" y="1341.7" width="28.3" height="35.3" fill="#b9c431"/>
<rect x="444.4" y="1341.7" width="26.0" height="35.3" fill="#fccf30"/>
<rect x="470.0" y="1341.7" width="28.3" height="35.3" fill="#fad62d"/>
<rect x="498.0" y="1341.7" width="26.0" height="35.3" fill="#9dc943"/>
<rect x="523.7" y="1341.7" width="28.3" height="35.3" fill="#0bbdbd"/>
<rect x="551.7" y="1341.7" width="28.3" height="35.3" fill="#2797eb"/>
<rect x="579.7" y="1341.7" width="26.0" height="35.3" fill="#3e6fff"/>
<rect x="605.4" y="1341.7" width="28.3" height="35.3" fill="#4758f8"/>
<rect x="633.4" y="1341.7" width="26.0" height="35.3" fill="#484df0"/>
<rect x="659.0" y="1341.7" width="28.3" height="35.3" fill="#4741e5"/>
<rect x="687.1" y="1341.7" width="26.0" height="35.3" fill="#4537d5"/>
<rect x="712.7" y="1341.7" width="28.3" height="35.3" fill="#422ec0"/>
<rect x="740.7" y="1341.7" width="26.0" height="35.3" fill="#402ab4"/>
<rect x="334.7" y="1309.0" width="28.3" height="33.0" fill="#4741e5"/>
<rect x="362.7" y="1309.0" width="28.3" height="33.0" fill="#2f81fa"/>
<rect x="390.7" y="1309.0" width="26.0" height="33.0" fill="#2797eb"/>
<rect x="416.4" y="1309.0" width="28.3" height="33.0" fill="#57cc7a"/>
<rect x="444.4" y="1309.0" width="26.0" height="33.0" fill="#febe3c"/>
<rect x="470.0" y="1309.0" width="28.3" height="33.0" fill="#f5e327"/>
<rect x="498.0" y="1309.0" width="26.0" height="33.0" fill="#f0ba36"/>
<rect x="523.7" y="1309.0" width="28.3" height="33.0" fill="#37c897"/>
<rect x="551.7" y="1309.0" width="28.3" height="33.0" fill="#1ca9df"/>
<rect x="579.7" y="1309.0" width="26.0" height="33.0" fill="#2f81fa"/>
<rect x="605.4" y="1309.0" width="28.3" height="33.0" fill="#465efb"/>
<rect x="633.4" y="1309.0" width="26.0" height="33.0" fill="#4852f4"/>
<rect x="659.0" y="1309.0" width="28.3" height="33.0" fill="#4747eb"/>
<rect x="687.1" y="1309.0" width="26.0" height="33.0" fill="#463cde"/>
<rect x="712.7" y="1309.0" width="28.3" height="33.0" fill="#4537d5"/>
<rect x="740.7" y="1309.0" width="26.0" height="33.0" fill="#402ab4"/>
<rect x="766.4" y="1309.0" width="28.3" height="33.0" fill="#402ab4"/>
<rect x="334.7" y="1278.7" width="28.3" height="30.6" fill="#4537d5"/>
<rect x="362.7" y="1278.7" width="28.3" height="30.6" fill="#4269fe"/>
<rect x="390.7" y="1278.7" width="26.0" height="30.6" fill="#2b91ef"/>
<rect x="416.4" y="1278.7" width="28.3" height="30.6" fill="#24c1ae"/>
<rect x="444.4" y="1278.7" width="26.0" height="30.6" fill="#f8ba3d"/>
<rect x="470.0" y="1278.7" width="28.3" height="30.6" fill="#f5e327"/>
<rect x="498.0" y="1278.7" width="26.0" height="30.6" fill="#fccf30"/>
<rect x="523.7" y="1278.7" width="28.3" height="30.6" fill="#8fcb4e"/>
<rect x="551.7" y="1278.7" width="28.3" height="30.6" fill="#0bbdbd"/>
<rect x="579.7" y="1278.7" width="26.0" height="30.6" fill="#2797eb"/>
<rect x="605.4" y="1278.7" width="28.3" height="30.6" fill="#3875fe"/>
<rect x="633.4" y="1278.7" width="26.0" height="30.6" fill="#4758f8"/>
<rect x="659.0" y="1278.7" width="28.3" height="30.6" fill="#484df0"/>
<rect x="687.1" y="1278.7" width="26.0" height="30.6" fill="#4741e5"/>
<rect x="712.7" y="1278.7" width="28.3" height="30.6" fill="#463cde"/>
<rect x="740.7" y="1278.7" width="26.0" height="30.6" fill="#422ec0"/>
<rect x="766.4" y="1278.7" width="28.3" height="30.6" fill="#402ab4"/>
<rect x="794.4" y="1278.7" width="28.3" height="30.6" fill="#402ab4"/>
<rect x="334.7" y="1246.0" width="28.3" height="33.0" fill="#402ab4"/>
<rect x="362.7" y="1246.0" width="28.3" height="33.0" fill="#465efb"/>
<rect x="390.7" y="1246.0" width="26.0" height="33.0" fill="#327cfc"/>
<rect x="416.4" y="1246.0" width="28.3" height="33.0" fill="#1ca9df"/>
<rect x="444.4" y="1246.0" width="26.0" height="33.0" fill="#d1bf27"/>
<rect x="470.0" y="1246.0" width="28.3" height="33.0" fill="#f9fb15"/>
<rect x="498.0" y="1246.0" width="26.0" height="33.0" fill="#f5e924"/>
<rect x="523.7" y="1246.0" width="28.3" height="33.0" fill="#e6bb2d"/>
<rect x="551.7" y="1246.0" width="28.3" height="33.0" fill="#37c897"/>
<rect x="579.7" y="1246.0" width="26.0" height="33.0" fill="#1ca9df"/>
<rect x="605.4" y="1246.0" width="28.3" height="33.0" fill="#2e87f7"/>
<rect x="633.4" y="1246.0" width="26.0" height="33.0" fill="#4269fe"/>
<rect x="659.0" y="1246.0" width="28.3" height="33.0" fill="#4758f8"/>
<rect x="687.1" y="1246.0" width="26.0" height="33.0" fill="#484df0"/>
<rect x="712.7" y="1246.0" width="28.3" height="33.0" fill="#4741e5"/>
<rect x="740.7" y="1246.0" width="26.0" height="33.0" fill="#463cde"/>
<rect x="766.4" y="1246.0" width="28.3" height="33.0" fill="#422ec0"/>
<rect x="794.4" y="1246.0" width="28.3" height="33.0" fill="#402ab4"/>
<rect x="822.4" y="1246.0" width="26.0" height="33.0" fill="#402ab4"/>
<rect x="362.7" y="1212.2" width="28.3" height="34.1" fill="#4741e5"/>
<rect x="390.7" y="1212.2" width="26.0" height="34.1" fill="#4269fe"/>
<rect x="416.4" y="1212.2" width="28.3" height="34.1" fill="#2f81fa"/>
<rect x="444.4" y="1212.2" width="26.0" height="34.1" fill="#3fca8e"/>
<rect x="470.0" y="1212.2" width="28.3" height="34.1" fill="#f6ef20"/>
<rect x="498.0" y="1212.2" width="26.0" height="34.1" fill="#f6ef20"/>
<rect x="523.7" y="1212.2" width="28.3" height="34.1" fill="#fec934"/>
<rect x="551.7" y="1212.2" width="28.3" height="34.1" fill="#9dc943"/>
<rect x="579.7" y="1212.2" width="26.0" height="34.1" fill="#0bbdbd"/>
<rect x="605.4" y="1212.2" width="28.3" height="34.1" fill="#2797eb"/>
<rect x="633.4" y="1212.2" width="26.0" height="34.1" fill="#3875fe"/>
<rect x="659.0" y="1212.2" width="28.3" height="34.1" fill="#465efb"/>
<rect x="687.1" y="1212.2" width="26.0" height="34.1" fill="#4852f4"/>
<rect x="712.7" y="1212.2" width="28.3" height="34.1" fill="#4747eb"/>
<rect x="740.7" y="1212.2" width="26.0" height="34.1" fill="#4741e5"/>
<rect x="766.4" y="1212.2" width="28.3" height="34.1" fill="#422ec0"/>
<rect x="794.4" y="1212.2" width="28.3" height="34.1" fill="#402ab4"/>
<rect x="822.4" y="1212.2" width="26.0" height="34.1" fill="#402ab4"/>
<rect x="362.7" y="1180.7" width="28.3" height="31.8" fill="#422ec0"/>
<rect x="390.7" y="1180.7" width="26.0" height="31.8" fill="#4758f8"/>
<rect x="416.4" y="1180.7" width="28.3" height="31.8" fill="#4563fd"/>
<rect x="444.4" y="1180.7" width="26.0" height="31.8" fill="#23a0e5"/>
<rect x="470.0" y="1180.7" width="28.3" height="31.8" fill="#f0ba36"/>
<rect x="498.0" y="1180.7" width="26.0" height="31.8" fill="#f9fb15"/>
<rect x="523.7" y="1180.7" width="28.3" height="31.8" fill="#f6ef20"/>
<rect x="551.7" y="1180.7" width="28.3" height="31.8" fill="#f0ba36"/>
<rect x="579.7" y="1180.7" width="26.0" height="31.8" fill="#4acb84"/>
<rect x="605.4" y="1180.7" width="28.3" height="31.8" fill="#08b5d0"/>
<rect x="633.4" y="1180.7" width="26.0" height="31.8" fill="#2e87f7"/>
<rect x="659.0" y="1180.7" width="28.3" height="31.8" fill="#4563fd"/>
<rect x="687.1" y="1180.7" width="26.0" height="31.8" fill="#4758f8"/>
<rect x="712.7" y="1180.7" width="28.3" height="31.8" fill="#484df0"/>
<rect x="740.7" y="1180.7" width="26.0" height="31.8" fill="#4741e5"/>
<rect x="766.4" y="1180.7" width="28.3" height="31.8" fill="#4537d5"/>
<rect x="794.4" y="1180.7" width="28.3" height="31.8" fill="#422ec0"/>
<rect x="822.4" y="1180.7" width="26.0" height="31.8" fill="#402ab4"/>
<rect x="848.1" y="1180.7" width="28.3" height="31.8" fill="#402ab4"/>
<rect x="362.7" y="1149.2" width="28.3" height="31.8" fill="#402ab4"/>
<rect x="390.7" y="1149.2" width="26.0" height="31.8" fill="#4741e5"/>
<rect x="416.4" y="1149.2" width="28.3" height="31.8" fill="#484df0"/>
<rect x="444.4" y="1149.2" width="26.0" height="31.8" fill="#4269fe"/>
<rect x="470.0" y="1149.2" width="28.3" height="31.8" fill="#2cc4a7"/>
<rect x="498.0" y="1149.2" width="26.0" height="31.8" fill="#fccf30"/>
<rect x="523.7" y="1149.2" width="28.3" height="31.8" fill="#f7f51b"/>
<rect x="551.7" y="1149.2" width="28.3" height="31.8" fill="#fec338"/>
<rect x="579.7" y="1149.2" width="26.0" height="31.8" fill="#9dc943"/>
<rect x="605.4" y="1149.2" width="28.3" height="31.8" fill="#24c1ae"/>
<rect x="633.4" y="1149.2" width="26.0" height="31.8" fill="#259be8"/>
<rect x="659.0" y="1149.2" width="28.3" height="31.8" fill="#327cfc"/>
<rect x="687.1" y="1149.2" width="26.0" height="31.8" fill="#4563fd"/>
<rect x="712.7" y="1149.2" width="28.3" height="31.8" fill="#4852f4"/>
<rect x="740.7" y="1149.2" width="26.0" height="31.8" fill="#4747eb"/>
<rect x="766.4" y="1149.2" width="28.3" height="31.8" fill="#463cde"/>
<rect x="794.4" y="1149.2" width="28.3" height="31.8" fill="#422ec0"/>
<rect x="822.4" y="1149.2" width="26.0" height="31.8" fill="#402ab4"/>
<rect x="848.1" y="1149.2" width="28.3" height="31.8" fill="#402ab4"/>
<rect x="390.7" y="1117.7" width="26.0" height="31.8" fill="#422ec0"/>
<rect x="416.4" y="1117.7" width="28.3" height="31.8" fill="#463cde"/>
<rect x="444.4" y="1117.7" width="26.0" height="31.8" fill="#4747eb"/>
<rect x="470.0" y="1117.7" width="28.3" height="31.8" fill="#2f81fa"/>
<rect x="498.0" y="1117.7" width="26.0" height="31.8" fill="#64cd6f"/>
<rect x="523.7" y="1117.7" width="28.3" height="31.8" fill="#fec338"/>
<rect x="551.7" y="1117.7" width="28.3" height="31.8" fill="#f8ba3d"/>
<rect x="579.7" y="1117.7" width="26.0" height="31.8" fill="#abc739"/>
<rect x="605.4" y="1117.7" width="28.3" height="31.8" fill="#3fca8e"/>
<rect x="633.4" y="1117.7" width="26.0" height="31.8" fill="#12b1d6"/>
<rect x="659.0" y="1117.7" width="28.3" height="31.8" fill="#2b91ef"/>
<rect x="687.1" y="1117.7" width="26.0" height="31.8" fill="#3e6fff"/>
<rect x="712.7" y="1117.7" width="28.3" height="31.8" fill="#4758f8"/>
<rect x="740.7" y="1117.7" width="26.0" height="31.8" fill="#484df0"/>
<rect x="766.4" y="1117.7" width="28.3" height="31.8" fill="#463cde"/>
<rect x="794.4" y="1117.7" width="28.3" height="31.8" fill="#4537d5"/>
<rect x="822.4" y="1117.7" width="26.0" height="31.8" fill="#422ec0"/>
<rect x="848.1" y="1117.7" width="28.3" height="31.8" fill="#402ab4"/>
<rect x="876.1" y="1117.7" width="26.0" height="31.8" fill="#402ab4"/>
<rect x="390.7" y="1082.7" width="26.0" height="35.3" fill="#402ab4"/>
<rect x="416.4" y="1082.7" width="28.3" height="35.3" fill="#422ec0"/>
<rect x="444.4" y="1082.7" width="26.0" height="35.3" fill="#463cde"/>
<rect x="470.0" y="1082.7" width="28.3" height="35.3" fill="#4758f8"/>
<rect x="498.0" y="1082.7" width="26.0" height="35.3" fill="#23a0e5"/>
<rect x="523.7" y="1082.7" width="28.3" height="35.3" fill="#4acb84"/>
<rect x="551.7" y="1082.7" width="28.3" height="35.3" fill="#9dc943"/>
<rect x="579.7" y="1082.7" width="26.0" height="35.3" fill="#9dc943"/>
<rect x="605.4" y="1082.7" width="28.3" height="35.3" fill="#2cc4a7"/>
<rect x="633.4" y="1082.7" width="26.0" height="35.3" fill="#08b5d0"/>
<rect x="659.0" y="1082.7" width="28.3" height="35.3" fill="#2797eb"/>
<rect x="687.1" y="1082.7" width="26.0" height="35.3" fill="#2f81fa"/>
<rect x="712.7" y="1082.7" width="28.3" height="35.3" fill="#4563fd"/>
<rect x="740.7" y="1082.7" width="26.0" height="35.3" fill="#4852f4"/>
<rect x="766.4" y="1082.7" width="28.3" height="35.3" fill="#4747eb"/>
<rect x="794.4" y="1082.7" width="28.3" height="35.3" fill="#463cde"/>
<rect x="822.4" y="1082.7" width="26.0" height="35.3" fill="#422ec0"/>
<rect x="848.1" y="1082.7" width="28.3" height="35.3" fill="#402ab4"/>
<rect x="876.1" y="1082.7" width="26.0" height="35.3" fill="#402ab4"/>
<rect x="416.4" y="1052.3" width="28.3" height="30.6" fill="#402ab4"/>
<rect x="444.4" y="1052.3" width="26.0" height="30.6" fill="#402ab4"/>
<rect x="470.0" y="1052.3" width="28.3" height="30.6" fill="#463cde"/>
<rect x="498.0" y="1052.3" width="26.0" height="30.6" fill="#4758f8"/>
<rect x="523.7" y="1052.3" width="28.3" height="30.6" fill="#259be8"/>
<rect x="551.7" y="1052.3" width="28.3" height="30.6" fill="#0bbdbd"/>
<rect x="579.7" y="1052.3" width="26.0" height="30.6" fill="#2cc4a7"/>
<rect x="605.4" y="1052.3" width="28.3" height="30.6" fill="#19bfb6"/>
<rect x="633.4" y="1052.3" width="26.0" height="30.6" fill="#12b1d6"/>
<rect x="659.0" y="1052.3" width="28.3" height="30.6" fill="#23a0e5"/>
<rect x="687.1" y="1052.3" width="26.0" height="30.6" fill="#2f81fa"/>
<rect x="712.7" y="1052.3" width="28.3" height="30.6" fill="#4269fe"/>
<rect x="740.7" y="1052.3" width="26.0" height="30.6" fill="#4758f8"/>
<rect x="766.4" y="1052.3" width="28.3" height="30.6" fill="#484df0"/>
<rect x="794.4" y="1052.3" width="28.3" height="30.6" fill="#4741e5"/>
<rect x="822.4" y="1052.3" width="26.0" height="30.6" fill="#4537d5"/>
<rect x="848.1" y="1052.3" width="28.3" height="30.6" fill="#422ec0"/>
<rect x="876.1" y="1052.3" width="26.0" height="30.6" fill="#402ab4"/>
<rect x="901.7" y="1052.3" width="28.3" height="30.6" fill="#402ab4"/>
<rect x="470.0" y="1019.7" width="28.3" height="33.0" fill="#422ec0"/>
<rect x="498.0" y="1019.7" width="26.0" height="33.0" fill="#4537d5"/>
<rect x="523.7" y="1019.7" width="28.3" height="33.0" fill="#4758f8"/>
<rect x="551.7" y="1019.7" width="28.3" height="33.0" fill="#2e87f7"/>
<rect x="579.7" y="1019.7" width="26.0" height="33.0" fill="#1ca9df"/>
<rect x="605.4" y="1019.7" width="28.3" height="33.0" fill="#1ca9df"/>
<rect x="633.4" y="1019.7" width="26.0" height="33.0" fill="#23a0e5"/>
<rect x="659.0" y="1019.7" width="28.3" height="33.0" fill="#2b91ef"/>
<rect x="687.1" y="1019.7" width="26.0" height="33.0" fill="#2f81fa"/>
<rect x="712.7" y="1019.7" width="28.3" height="33.0" fill="#4269fe"/>
<rect x="740.7" y="1019.7" width="26.0" height="33.0" fill="#465efb"/>
<rect x="766.4" y="1019.7" width="28.3" height="33.0" fill="#484df0"/>
<rect x="794.4" y="1019.7" width="28.3" height="33.0" fill="#4747eb"/>
<rect x="822.4" y="1019.7" width="26.0" height="33.0" fill="#463cde"/>
<rect x="848.1" y="1019.7" width="28.3" height="33.0" fill="#422ec0"/>
<rect x="876.1" y="1019.7" width="26.0" height="33.0" fill="#422ec0"/>
<rect x="901.7" y="1019.7" width="28.3" height="33.0" fill="#402ab4"/>
<rect x="498.0" y="984.7" width="26.0" height="35.3" fill="#402ab4"/>
<rect x="523.7" y="984.7" width="28.3" height="35.3" fill="#422ec0"/>
<rect x="551.7" y="984.7" width="28.3" height="35.3" fill="#484df0"/>
<rect x="579.7" y="984.7" width="26.0" height="35.3" fill="#4269fe"/>
<rect x="605.4" y="984.7" width="28.3" height="35.3" fill="#2f81fa"/>
<rect x="633.4" y="984.7" width="26.0" height="35.3" fill="#2e87f7"/>
<rect x="659.0" y="984.7" width="28.3" height="35.3" fill="#327cfc"/>
<rect x="687.1" y="984.7" width="26.0" height="35.3" fill="#4269fe"/>
<rect x="712.7" y="984.7" width="28.3" height="35.3" fill="#465efb"/>
<rect x="740.7" y="984.7" width="26.0" height="35.3" fill="#4758f8"/>
<rect x="766.4" y="984.7" width="28.3" height="35.3" fill="#484df0"/>
<rect x="794.4" y="984.7" width="28.3" height="35.3" fill="#4741e5"/>
<rect x="822.4" y="984.7" width="26.0" height="35.3" fill="#463cde"/>
<rect x="848.1" y="984.7" width="28.3" height="35.3" fill="#422ec0"/>
<rect x="876.1" y="984.7" width="26.0" height="35.3" fill="#422ec0"/>
<rect x="901.7" y="984.7" width="28.3" height="35.3" fill="#402ab4"/>
<rect x="929.7" y="984.7" width="26.0" height="35.3" fill="#402ab4"/>
<rect x="523.7" y="954.3" width="28.3" height="30.6" fill="#402ab4"/>
<rect x="551.7" y="954.3" width="28.3" height="30.6" fill="#422ec0"/>
<rect x="579.7" y="954.3" width="26.0" height="30.6" fill="#4741e5"/>
<rect x="605.4" y="954.3" width="28.3" height="30.6" fill="#4852f4"/>
<rect x="633.4" y="954.3" width="26.0" height="30.6" fill="#4758f8"/>
<rect x="659.0" y="954.3" width="28.3" height="30.6" fill="#4758f8"/>
<rect x="687.1" y="954.3" width="26.0" height="30.6" fill="#4758f8"/>
<rect x="712.7" y="954.3" width="28.3" height="30.6" fill="#4852f4"/>
<rect x="740.7" y="954.3" width="26.0" height="30.6" fill="#484df0"/>
<rect x="766.4" y="954.3" width="28.3" height="30.6" fill="#4747eb"/>
<rect x="794.4" y="954.3" width="28.3" height="30.6" fill="#4741e5"/>
<rect x="822.4" y="954.3" width="26.0" height="30.6" fill="#463cde"/>
<rect x="848.1" y="954.3" width="28.3" height="30.6" fill="#422ec0"/>
<rect x="876.1" y="954.3" width="26.0" height="30.6" fill="#422ec0"/>
<rect x="901.7" y="954.3" width="28.3" height="30.6" fill="#402ab4"/>
<rect x="929.7" y="954.3" width="26.0" height="30.6" fill="#402ab4"/>
<rect x="551.7" y="921.7" width="28.3" height="33.0" fill="#402ab4"/>
<rect x="579.7" y="921.7" width="26.0" height="33.0" fill="#422ec0"/>
<rect x="605.4" y="921.7" width="28.3" height="33.0" fill="#4537d5"/>
<rect x="633.4" y="921.7" width="26.0" height="33.0" fill="#4741e5"/>
<rect x="659.0" y="921.7" width="28.3" height="33.0" fill="#4747eb"/>
<rect x="687.1" y="921.7" width="26.0" height="33.0" fill="#4747eb"/>
<rect x="712.7" y="921.7" width="28.3" height="33.0" fill="#4747eb"/>
<rect x="740.7" y="921.7" width="26.0" height="33.0" fill="#4741e5"/>
<rect x="766.4" y="921.7" width="28.3" height="33.0" fill="#463cde"/>
<rect x="794.4" y="921.7" width="28.3" height="33.0" fill="#463cde"/>
<rect x="822.4" y="921.7" width="26.0" height="33.0" fill="#4537d5"/>
<rect x="848.1" y="921.7" width="28.3" height="33.0" fill="#422ec0"/>
<rect x="876.1" y="921.7" width="26.0" height="33.0" fill="#402ab4"/>
<rect x="901.7" y="921.7" width="28.3" height="33.0" fill="#402ab4"/>
<rect x="929.7" y="921.7" width="26.0" height="33.0" fill="#402ab4"/>
<rect x="605.4" y="891.3" width="28.3" height="30.6" fill="#402ab4"/>
<rect x="633.4" y="891.3" width="26.0" height="30.6" fill="#422ec0"/>
<rect x="659.0" y="891.3" width="28.3" height="30.6" fill="#422ec0"/>
<rect x="687.1" y="891.3" width="26.0" height="30.6" fill="#4537d5"/>
<rect x="712.7" y="891.3" width="28.3" height="30.6" fill="#463cde"/>
<rect x="740.7" y="891.3" width="26.0" height="30.6" fill="#4537d5"/>
<rect x="766.4" y="891.3" width="28.3" height="30.6" fill="#4537d5"/>
<rect x="794.4" y="891.3" width="28.3" height="30.6" fill="#422ec0"/>
<rect x="822.4" y="891.3" width="26.0" height="30.6" fill="#422ec0"/>
<rect x="848.1" y="891.3" width="28.3" height="30.6" fill="#402ab4"/>
<rect x="876.1" y="891.3" width="26.0" height="30.6" fill="#402ab4"/>
<rect x="901.7" y="891.3" width="28.3" height="30.6" fill="#402ab4"/>
<rect x="929.7" y="891.3" width="26.0" height="30.6" fill="#402ab4"/>
<rect x="955.4" y="891.3" width="28.3" height="30.6" fill="#402ab4"/>
<rect x="659.0" y="856.3" width="28.3" height="35.3" fill="#402ab4"/>
<rect x="687.1" y="856.3" width="26.0" height="35.3" fill="#422ec0"/>
<rect x="712.7" y="856.3" width="28.3" height="35.3" fill="#422ec0"/>
<rect x="740.7" y="856.3" width="26.0" height="35.3" fill="#422ec0"/>
<rect x="766.4" y="856.3" width="28.3" height="35.3" fill="#422ec0"/>
<rect x="794.4" y="856.3" width="28.3" height="35.3" fill="#422ec0"/>
<rect x="822.4" y="856.3" width="26.0" height="35.3" fill="#402ab4"/>
<rect x="848.1" y="856.3" width="28.3" height="35.3" fill="#402ab4"/>
<rect x="876.1" y="856.3" width="26.0" height="35.3" fill="#402ab4"/>
<rect x="901.7" y="856.3" width="28.3" height="35.3" fill="#402ab4"/>
<rect x="712.7" y="824.8" width="28.3" height="31.8" fill="#402ab4"/>
<rect x="740.7" y="824.8" width="26.0" height="31.8" fill="#402ab4"/>
<rect x="766.4" y="824.8" width="28.3" height="31.8" fill="#402ab4"/>
<rect x="794.4" y="824.8" width="28.3" height="31.8" fill="#402ab4"/>
<rect x="822.4" y="824.8" width="26.0" height="31.8" fill="#402ab4"/>
<rect x="848.1" y="824.8" width="28.3" height="31.8" fill="#402ab4"/>
<rect x="876.1" y="824.8" width="26.0" height="31.8" fill="#402ab4"/>
<rect x="794.4" y="793.3" width="28.3" height="31.8" fill="#402ab4"/>
<rect x="822.4" y="793.3" width="26.0" height="31.8" fill="#402ab4"/>
<rect x="848.1" y="793.3" width="28.3" height="31.8" fill="#402ab4"/>
<rect x="901.7" y="793.3" width="28.3" height="31.8" fill="#402ab4"/>
<rect x="929.7" y="793.3" width="26.0" height="31.8" fill="#402ab4"/>
</g>
<line x1="1602.5" y1="128.7" x2="1602.5" y2="1463.8" stroke="#6e6e6e" stroke-width="3.6"/>
<g id="curves" clip-path="url(#ax)">
<use href="#c0" fill="none" stroke="#ff0000" stroke-width="14.2" stroke-opacity="0.14" stroke-dasharray="42.6 33.0" stroke-dashoffset="54.47"/>
<use href="#c0" fill="none" stroke="#ff0000" stroke-width="9.7" stroke-dasharray="42.6 33.0" stroke-dashoffset="54.47"/>
<use href="#c1" fill="none" stroke="#ff0000" stroke-width="14.2" stroke-opacity="0.14" stroke-dasharray="42.6 33.0" stroke-dashoffset="8.37"/>
<use href="#c1" fill="none" stroke="#ff0000" stroke-width="9.7" stroke-dasharray="42.6 33.0" stroke-dashoffset="8.37"/>
<use href="#c2" fill="none" stroke="#ff0000" stroke-width="14.2" stroke-opacity="0.14"/>
<use href="#c2" fill="none" stroke="#ff0000" stroke-width="9.7"/>
<use href="#c3" fill="none" stroke="#000000" stroke-width="14.2" stroke-opacity="0.14" stroke-dasharray="42.6 33.0" stroke-dashoffset="52.52"/>
<use href="#c3" fill="none" stroke="#000000" stroke-width="9.7" stroke-dasharray="42.6 33.0" stroke-dashoffset="52.52"/>
<use href="#c4" fill="none" stroke="#000000" stroke-width="14.2" stroke-opacity="0.14" stroke-dasharray="42.6 33.0" stroke-dashoffset="2.98"/>
<use href="#c4" fill="none" stroke="#000000" stroke-width="9.7" stroke-dasharray="42.6 33.0" stroke-dashoffset="2.98"/>
<use href="#c5" fill="none" stroke="#000000" stroke-width="14.2" stroke-opacity="0.14"/>
<use href="#c5" fill="none" stroke="#000000" stroke-width="9.7"/>
</g>
<g id="axes" fill="none" stroke="#000000" stroke-opacity="0.5" stroke-width="6.1">
<line x1="268.4" y1="131.75" x2="268.4" y2="1460.75"/>
<line x1="265.35" y1="128.7" x2="1604.1" y2="128.7"/>
<line x1="265.35" y1="1463.8" x2="1604.1" y2="1463.8"/>
<line x1="1606.4" y1="127.7" x2="1606.4" y2="1464.8" stroke="#1e1e1e" stroke-opacity="1" stroke-width="3.1"/>
</g>
<g id="legend">
<rect x="843.8" y="183.4" width="705" height="138.8" fill="#ffffff" stroke="#2a2a2a" stroke-width="2.9"/>
<line x1="856.5" y1="221.3" x2="1019.5" y2="221.3" stroke="#ff0000" stroke-width="14.6" stroke-opacity="0.14"/>
<line x1="858" y1="221.3" x2="1018" y2="221.3" stroke="#ff0000" stroke-width="9.6"/>
<line x1="856.5" y1="287.4" x2="1019.5" y2="287.4" stroke="#000000" stroke-width="14.6" stroke-opacity="0.14"/>
<line x1="858" y1="287.4" x2="1018" y2="287.4" stroke="#000000" stroke-width="9.6"/>
</g>
<g id="cbar">
<g shape-rendering="crispEdges">
<rect x="1675.4" y="1442.46" width="100.9" height="21.24" fill="#ffffff"/>
<rect x="1675.4" y="1421.62" width="100.9" height="21.24" fill="#402ab4"/>
<rect x="1675.4" y="1400.78" width="100.9" height="21.24" fill="#422ec0"/>
<rect x="1675.4" y="1379.94" width="100.9" height="21.24" fill="#4332cb"/>
<rect x="1675.4" y="1359.10" width="100.9" height="21.24" fill="#4537d5"/>
<rect x="1675.4" y="1338.26" width="100.9" height="21.24" fill="#463cde"/>
<rect x="1675.4" y="1317.42" width="100.9" height="21.24" fill="#4741e5"/>
<rect x="1675.4" y="1296.58" width="100.9" height="21.24" fill="#4747eb"/>
<rect x="1675.4" y="1275.73" width="100.9" height="21.24" fill="#484df0"/>
<rect x="1675.4" y="1254.89" width="100.9" height="21.24" fill="#4852f4"/>
<rect x="1675.4" y="1234.05" width="100.9" height="21.24" fill="#4758f8"/>
<rect x="1675.4" y="1213.21" width="100.9" height="21.24" fill="#465efb"/>
<rect x="1675.4" y="1192.37" width="100.9" height="21.24" fill="#4563fd"/>
<rect x="1675.4" y="1171.53" width="100.9" height="21.24" fill="#4269fe"/>
<rect x="1675.4" y="1150.69" width="100.9" height="21.24" fill="#3e6fff"/>
<rect x="1675.4" y="1129.85" width="100.9" height="21.24" fill="#3875fe"/>
<rect x="1675.4" y="1109.01" width="100.9" height="21.24" fill="#327cfc"/>
<rect x="1675.4" y="1088.17" width="100.9" height="21.24" fill="#2f81fa"/>
<rect x="1675.4" y="1067.33" width="100.9" height="21.24" fill="#2e87f7"/>
<rect x="1675.4" y="1046.49" width="100.9" height="21.24" fill="#2d8cf3"/>
<rect x="1675.4" y="1025.65" width="100.9" height="21.24" fill="#2b91ef"/>
<rect x="1675.4" y="1004.81" width="100.9" height="21.24" fill="#2797eb"/>
<rect x="1675.4" y="983.97" width="100.9" height="21.24" fill="#259be8"/>
<rect x="1675.4" y="963.12" width="100.9" height="21.24" fill="#23a0e5"/>
<rect x="1675.4" y="942.28" width="100.9" height="21.24" fill="#20a5e3"/>
<rect x="1675.4" y="921.44" width="100.9" height="21.24" fill="#1ca9df"/>
<rect x="1675.4" y="900.60" width="100.9" height="21.24" fill="#18addb"/>
<rect x="1675.4" y="879.76" width="100.9" height="21.24" fill="#12b1d6"/>
<rect x="1675.4" y="858.92" width="100.9" height="21.24" fill="#08b5d0"/>
<rect x="1675.4" y="838.08" width="100.9" height="21.24" fill="#01b8ca"/>
<rect x="1675.4" y="817.24" width="100.9" height="21.24" fill="#02bac3"/>
<rect x="1675.4" y="796.40" width="100.9" height="21.24" fill="#0bbdbd"/>
<rect x="1675.4" y="775.56" width="100.9" height="21.24" fill="#19bfb6"/>
<rect x="1675.4" y="754.72" width="100.9" height="21.24" fill="#24c1ae"/>
<rect x="1675.4" y="733.88" width="100.9" height="21.24" fill="#2cc4a7"/>
<rect x="1675.4" y="713.04" width="100.9" height="21.24" fill="#31c69f"/>
<rect x="1675.4" y="692.20" width="100.9" height="21.24" fill="#37c897"/>
<rect x="1675.4" y="671.36" width="100.9" height="21.24" fill="#3fca8e"/>
<rect x="1675.4" y="650.52" width="100.9" height="21.24" fill="#4acb84"/>
<rect x="1675.4" y="629.67" width="100.9" height="21.24" fill="#57cc7a"/>
<rect x="1675.4" y="608.83" width="100.9" height="21.24" fill="#64cd6f"/>
<rect x="1675.4" y="587.99" width="100.9" height="21.24" fill="#72cd64"/>
<rect x="1675.4" y="567.15" width="100.9" height="21.24" fill="#81cc59"/>
<rect x="1675.4" y="546.31" width="100.9" height="21.24" fill="#8fcb4e"/>
<rect x="1675.4" y="525.47" width="100.9" height="21.24" fill="#9dc943"/>
<rect x="1675.4" y="504.63" width="100.9" height="21.24" fill="#abc739"/>
<rect x="1675.4" y="483.79" width="100.9" height="21.24" fill="#b9c431"/>
<rect x="1675.4" y="462.95" width="100.9" height="21.24" fill="#c5c22a"/>
<rect x="1675.4" y="442.11" width="100.9" height="21.24" fill="#d1bf27"/>
<rect x="1675.4" y="421.27" width="100.9" height="21.24" fill="#dcbd29"/>
<rect x="1675.4" y="400.43" width="100.9" height="21.24" fill="#e6bb2d"/>
<rect x="1675.4" y="379.59" width="100.9" height="21.24" fill="#f0ba36"/>
<rect x="1675.4" y="358.75" width="100.9" height="21.24" fill="#f8ba3d"/>
<rect x="1675.4" y="337.91" width="100.9" height="21.24" fill="#febe3c"/>
<rect x="1675.4" y="317.07" width="100.9" height="21.24" fill="#fec338"/>
<rect x="1675.4" y="296.22" width="100.9" height="21.24" fill="#fec934"/>
<rect x="1675.4" y="275.38" width="100.9" height="21.24" fill="#fccf30"/>
<rect x="1675.4" y="254.54" width="100.9" height="21.24" fill="#fad62d"/>
<rect x="1675.4" y="233.70" width="100.9" height="21.24" fill="#f7dc2a"/>
<rect x="1675.4" y="212.86" width="100.9" height="21.24" fill="#f5e327"/>
<rect x="1675.4" y="192.02" width="100.9" height="21.24" fill="#f5e924"/>
<rect x="1675.4" y="171.18" width="100.9" height="21.24" fill="#f6ef20"/>
<rect x="1675.4" y="150.34" width="100.9" height="21.24" fill="#f7f51b"/>
<rect x="1675.4" y="129.50" width="100.9" height="21.24" fill="#f9fb15"/>
</g>
<rect x="1675.4" y="129.5" width="100.9" height="1333.8" fill="none" stroke="#2a2a2a" stroke-width="2.9"/>
<g stroke="#2a2a2a" stroke-width="2.7">
<line x1="1763.3" y1="1276.0" x2="1776.3" y2="1276.0"/>
<line x1="1763.3" y1="1088.8" x2="1776.3" y2="1088.8"/>
<line x1="1763.3" y1="901.5" x2="1776.3" y2="901.5"/>
<line x1="1763.3" y1="714.3" x2="1776.3" y2="714.3"/>
<line x1="1763.3" y1="527.0" x2="1776.3" y2="527.0"/>
<line x1="1763.3" y1="339.8" x2="1776.3" y2="339.8"/>
<line x1="1763.3" y1="152.5" x2="1776.3" y2="152.5"/>
</g>
</g>
</g>
<g id="labels" filter="url(#tsoft)">
<text class="leg" transform="translate(1027.50,239.30) scale(1.0,1.035)">GPM-DPR convective fit</text>
<text class="leg" transform="translate(1027.50,305.30) scale(1.0,1.035)">GPM-DPR stratiform fit</text>
<text class="ann" transform="translate(1112.50,685.00) scale(1.05,1.035)">584504 samples</text>
<text class="tick" transform="translate(244.00,150.20) scale(1.055,1.035)" text-anchor="end">4</text>
<text class="tick" transform="translate(244.00,283.71) scale(1.055,1.035)" text-anchor="end">3.5</text>
<text class="tick" transform="translate(244.00,417.22) scale(1.055,1.035)" text-anchor="end">3</text>
<text class="tick" transform="translate(244.00,550.73) scale(1.055,1.035)" text-anchor="end">2.5</text>
<text class="tick" transform="translate(244.00,684.24) scale(1.055,1.035)" text-anchor="end">2</text>
<text class="tick" transform="translate(244.00,817.75) scale(1.055,1.035)" text-anchor="end">1.5</text>
<text class="tick" transform="translate(244.00,951.26) scale(1.055,1.035)" text-anchor="end">1</text>
<text class="tick" transform="translate(244.00,1084.77) scale(1.055,1.035)" text-anchor="end">0.5</text>
<text class="tick" transform="translate(244.00,1218.28) scale(1.055,1.035)" text-anchor="end">0</text>
<text class="tick" transform="translate(244.00,1351.79) scale(1.055,1.035)" text-anchor="end">-0.5</text>
<text class="tick" transform="translate(244.00,1485.30) scale(1.055,1.035)" text-anchor="end">-1</text>
<text class="tick" transform="translate(267.90,1541.50) scale(1.055,1.035)" text-anchor="middle">0</text>
<text class="tick" transform="translate(535.10,1541.50) scale(1.055,1.035)" text-anchor="middle">1</text>
<text class="tick" transform="translate(802.30,1541.50) scale(1.055,1.035)" text-anchor="middle">2</text>
<text class="tick" transform="translate(1069.50,1541.50) scale(1.055,1.035)" text-anchor="middle">3</text>
<text class="tick" transform="translate(1336.70,1541.50) scale(1.055,1.035)" text-anchor="middle">4</text>
<text class="tick" transform="translate(1603.90,1541.50) scale(1.055,1.035)" text-anchor="middle">5</text>
<text class="cb" transform="translate(1796.50,1482.80) scale(1.0,1.035)">0</text>
<text class="cb" transform="translate(1796.50,1295.55) scale(1.0,1.035)">1000</text>
<text class="cb" transform="translate(1796.50,1108.29) scale(1.0,1.035)">2000</text>
<text class="cb" transform="translate(1796.50,921.04) scale(1.0,1.035)">3000</text>
<text class="cb" transform="translate(1796.50,733.79) scale(1.0,1.035)">4000</text>
<text class="cb" transform="translate(1796.50,546.54) scale(1.0,1.035)">5000</text>
<text class="cb" transform="translate(1796.50,359.28) scale(1.0,1.035)">6000</text>
<text class="cb" transform="translate(1796.50,172.03) scale(1.0,1.035)">7000</text>
<text class="cb" transform="translate(1591.50,99.50) scale(1.0,1.035)"># of samples</text>
<text class="ttl" transform="translate(797.50,77.00) scale(1.0,1.035)">R vs D</text>
<text class="ttl sub" transform="translate(977.50,105.00) scale(1.0,1.035)" style="letter-spacing:1.8px">mas</text>
<text class="lab" transform="translate(811.50,1617.50) scale(1.045,1.035)">D</text>
<text class="lab sub" transform="translate(855.00,1645.00) scale(1.045,1.035)">m</text>
<text class="lab" transform="translate(926.50,1617.50) scale(1.045,1.035)">(mm)</text>
<g transform="translate(94.5,1020) rotate(-90)">
<text class="lab" transform="translate(-3.00,0.00) scale(1.045,1.035)">log</text>
<text class="lab sub" transform="translate(72.00,29.00) scale(1.045,1.035)" style="letter-spacing:3.5px">10</text>
<text class="lab" transform="translate(127.00,0.00) scale(1.045,1.035)" xml:space="preserve">(R (mm </text>
<text class="lab" transform="translate(334.00,0.00) scale(1.045,1.035)">h</text>
<text class="lab sub" transform="translate(365.00,-28.00) scale(1.045,1.035)" style="letter-spacing:3px">-1</text>
<text class="lab" transform="translate(409.00,0.00) scale(1.045,1.035)">))</text>
</g>
</g>
</svg>
</body></html>
